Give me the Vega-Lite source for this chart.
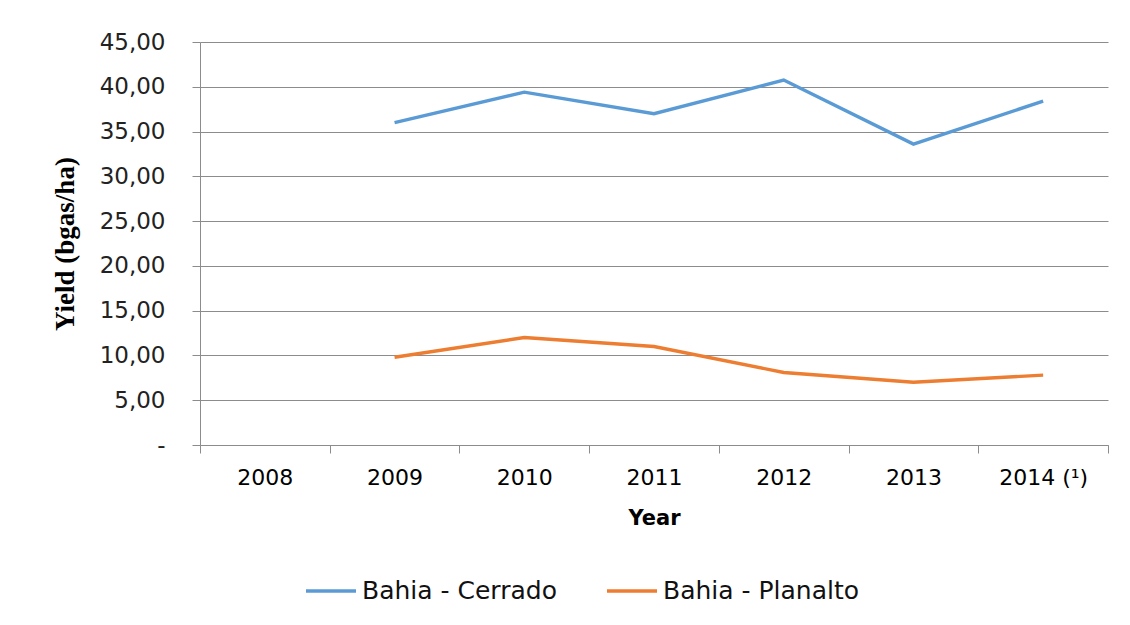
{
  "$schema": "https://vega.github.io/schema/vega-lite/v6.json",
  "width": 908,
  "height": 403,
  "autosize": {"type": "none"},
  "padding": {"left": 200, "top": 42, "right": 22, "bottom": 180},
  "background": "white",
  "data": {
    "values": [
      {"year": "2009", "series": "Bahia - Cerrado", "yield": 36.0},
      {"year": "2010", "series": "Bahia - Cerrado", "yield": 39.4},
      {"year": "2011", "series": "Bahia - Cerrado", "yield": 37.0},
      {"year": "2012", "series": "Bahia - Cerrado", "yield": 40.75},
      {"year": "2013", "series": "Bahia - Cerrado", "yield": 33.6},
      {"year": "2014 (¹)", "series": "Bahia - Cerrado", "yield": 38.4},
      {"year": "2009", "series": "Bahia - Planalto", "yield": 9.8},
      {"year": "2010", "series": "Bahia - Planalto", "yield": 12.0},
      {"year": "2011", "series": "Bahia - Planalto", "yield": 11.0},
      {"year": "2012", "series": "Bahia - Planalto", "yield": 8.1},
      {"year": "2013", "series": "Bahia - Planalto", "yield": 7.0},
      {"year": "2014 (¹)", "series": "Bahia - Planalto", "yield": 7.8}
    ]
  },
  "mark": {"type": "line", "strokeWidth": 3.4},
  "encoding": {
    "x": {
      "field": "year",
      "type": "ordinal",
      "scale": {"domain": ["2008", "2009", "2010", "2011", "2012", "2013", "2014 (¹)"], "paddingInner": 0, "paddingOuter": 0},
      "axis": {
        "title": "Year",
        "titleFont": "DejaVu Sans",
        "titleFontSize": 21,
        "titleFontWeight": "bold",
        "titleColor": "#000",
        "titlePadding": 19,
        "labelFont": "DejaVu Sans",
        "labelFontSize": 22,
        "labelColor": "#000",
        "labelAngle": 0,
        "labelPadding": 14,
        "bandPosition": 0,
        "tickBand": "extent",
        "ticks": true,
        "tickSize": 8,
        "tickColor": "#8c8c8c",
        "domainColor": "#8c8c8c",
        "grid": false
      }
    },
    "y": {
      "field": "yield",
      "type": "quantitative",
      "scale": {"domain": [0, 45], "nice": false, "zero": true},
      "axis": {
        "title": "Yield (bgas/ha)",
        "titleFont": "Liberation Serif",
        "titleFontSize": 27,
        "titleFontWeight": "bold",
        "titleColor": "#000",
        "titlePadding": 20,
        "values": [0, 5, 10, 15, 20, 25, 30, 35, 40, 45],
        "labelExpr": "datum.value == 0 ? '-' : replace(format(datum.value, '.2f'), '.', ',')",
        "labelFont": "DejaVu Sans",
        "labelFontSize": 23,
        "labelColor": "#222",
        "labelPadding": 27,
        "tickSize": 8,
        "tickColor": "#8c8c8c",
        "domainColor": "#8c8c8c",
        "gridColor": "#8c8c8c",
        "grid": true
      }
    },
    "color": {
      "field": "series",
      "type": "nominal",
      "scale": {"domain": ["Bahia - Cerrado", "Bahia - Planalto"], "range": ["#5B9BD5", "#ED7D31"]},
      "legend": {
        "title": null,
        "orient": "none",
        "direction": "horizontal",
        "legendX": 104,
        "legendY": 522,
        "symbolType": "stroke",
        "symbolSize": 2500,
        "symbolStrokeWidth": 3.4,
        "labelFont": "DejaVu Sans",
        "labelFontSize": 25,
        "labelColor": "#111",
        "labelLimit": 400,
        "columnPadding": 43,
        "symbolOffset": 0
      }
    }
  },
  "config": {
    "view": {"stroke": null}
  }
}
